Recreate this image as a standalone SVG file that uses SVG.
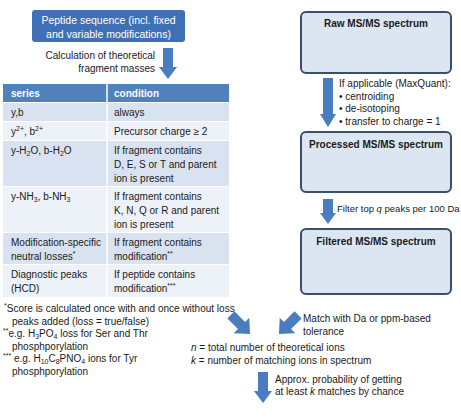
<svg xmlns="http://www.w3.org/2000/svg" width="461" height="419" viewBox="0 0 461 419">
<style>
text{font-family:"Liberation Sans",Arial,sans-serif;font-size:10px;fill:#1a1a1a}
.w{fill:#ffffff}
.b{font-weight:bold}
.box{fill:#dce6f2;stroke:#3b4e6a;stroke-width:2}
.arr{fill:#4a7dbf}
.hd{fill:#4f81bd}
.r1{fill:#d9e2f0}
.r2{fill:#edf1f8}
.i{font-style:italic}
.sm{font-size:7px}
</style>
<rect width="461" height="419" fill="#ffffff"/>

<g id="peptide">
<rect x="32" y="10" width="153" height="32" rx="3" fill="#3f70b6"/>
<text class="w" x="108.5" y="24" text-anchor="middle" style="font-size:10.5px">Peptide sequence (incl. fixed</text>
<text class="w" x="108.5" y="37.5" text-anchor="middle" style="font-size:10.5px">and variable modifications)</text>
</g>

<g id="raw">
<rect class="box" x="301" y="12" width="150" height="61" rx="5"/>
<text class="b" x="376" y="27" text-anchor="middle">Raw MS/MS spectrum</text>
</g>

<g id="processed">
<rect class="box" x="301" y="132" width="150" height="60" rx="5"/>
<text class="b" x="376" y="148" text-anchor="middle">Processed MS/MS spectrum</text>
</g>

<g id="filtered">
<rect class="box" x="301" y="229" width="150" height="65" rx="5"/>
<text class="b" x="376" y="245" text-anchor="middle">Filtered MS/MS spectrum</text>
</g>

<g id="table">
<rect class="hd" x="3" y="84" width="226" height="18"/>
<rect class="r1" x="3" y="103" width="226" height="18"/>
<rect class="r2" x="3" y="122" width="226" height="18"/>
<rect class="r1" x="3" y="141" width="226" height="45"/>
<rect class="r2" x="3" y="187" width="226" height="45"/>
<rect class="r1" x="3" y="233" width="226" height="31"/>
<rect class="r2" x="3" y="265" width="226" height="32"/>
<line x1="107" y1="84" x2="107" y2="297" stroke="#ffffff" stroke-width="1.5"/>
<text class="w b" x="11" y="97">series</text>
<text class="w b" x="114" y="97">condition</text>
<text x="11" y="116">y,b</text>
<text x="114" y="116">always</text>
<text x="11" y="135">y<tspan class="sm" dy="-4">2+</tspan><tspan dy="4">, b</tspan><tspan class="sm" dy="-4">2+</tspan></text>
<text x="114" y="135">Precursor charge ≥ 2</text>
<text x="11" y="154">y-H<tspan class="sm" dy="2">2</tspan><tspan dy="-2">O, b-H</tspan><tspan class="sm" dy="2">2</tspan><tspan dy="-2">O</tspan></text>
<text x="114" y="154">If fragment contains</text>
<text x="114" y="168">D, E, S or T and parent</text>
<text x="114" y="182">ion is present</text>
<text x="11" y="200">y-NH<tspan class="sm" dy="2">3</tspan><tspan dy="-2">, b-NH</tspan><tspan class="sm" dy="2">3</tspan></text>
<text x="114" y="200">If fragment contains</text>
<text x="114" y="214">K, N, Q or R and parent</text>
<text x="114" y="228">ion is present</text>
<text x="11" y="246">Modification-specific</text>
<text x="11" y="260">neutral losses<tspan class="sm" dy="-4">*</tspan></text>
<text x="114" y="246">If fragment contains</text>
<text x="114" y="260">modification<tspan class="sm" dy="-4">**</tspan></text>
<text x="11" y="278">Diagnostic peaks</text>
<text x="11" y="292">(HCD)</text>
<text x="114" y="278">If peptide contains</text>
<text x="114" y="292">modification<tspan class="sm" dy="-4">***</tspan></text>
</g>

<g id="footnotes">
<text x="4" y="312"><tspan class="sm" dy="-4">*</tspan><tspan dy="4">Score is calculated once with and once without loss</tspan></text>
<text x="12" y="324.5">peaks added (loss = true/false)</text>
<text x="3" y="337"><tspan class="sm" dy="-4">**</tspan><tspan dy="4">e.g. H</tspan><tspan class="sm" dy="2">3</tspan><tspan dy="-2">PO</tspan><tspan class="sm" dy="2">4</tspan><tspan dy="-2"> loss for Ser and Thr</tspan></text>
<text x="12" y="349.5">phosphporylation</text>
<text x="3" y="362"><tspan class="sm" dy="-4">***</tspan><tspan dy="4"> e.g. H</tspan><tspan class="sm" dy="2">10</tspan><tspan dy="-2">C</tspan><tspan class="sm" dy="2">8</tspan><tspan dy="-2">PNO</tspan><tspan class="sm" dy="2">4</tspan><tspan dy="-2"> ions for Tyr</tspan></text>
<text x="12" y="374.5">phosphporylation</text>
</g>

<g id="connectors">
<polygon class="arr" points="163,48 173,48 173,67 177,67 168,79 159,67 163,67"/>
<polygon class="arr" points="323,78 333,78 333,114 336,114 328,127 320,114 323,114"/>
<polygon class="arr" points="323,199 333,199 333,213 336,213 328,224 320,213 323,213"/>
<polygon class="arr" transform="translate(250,334) rotate(-45)" points="-5,-27 5,-27 5,-12 11,-12 0,0 -11,-12 -5,-12"/>
<polygon class="arr" transform="translate(279,334) rotate(45)" points="-5,-27 5,-27 5,-12 11,-12 0,0 -11,-12 -5,-12"/>
<polygon class="arr" points="258,372 268,372 268,391 272,391 263,403 254,391 258,391"/>
</g>

<g id="labels">
<text x="155" y="59" text-anchor="end">Calculation of theoretical</text>
<text x="155" y="72" text-anchor="end">fragment masses</text>
<text x="339" y="86.5">If applicable (MaxQuant):</text>
<text x="339" y="100">• centroiding</text>
<text x="339" y="111.5">• de-isotoping</text>
<text x="339" y="125">• transfer to charge = 1</text>
<text x="337" y="212" style="font-size:9.5px">Filter top <tspan class="i">q</tspan> peaks per 100 Da</text>
<text x="303" y="322">Match with Da or ppm-based</text>
<text x="303" y="335">tolerance</text>
<text x="191" y="351"><tspan class="i">n</tspan> = total number of theoretical ions</text>
<text x="191" y="364"><tspan class="i">k</tspan> = number of matching ions in spectrum</text>
<text x="275" y="383">Approx. probability of getting</text>
<text x="275" y="395">at least <tspan class="i">k</tspan> matches by chance</text>
</g>
</svg>
